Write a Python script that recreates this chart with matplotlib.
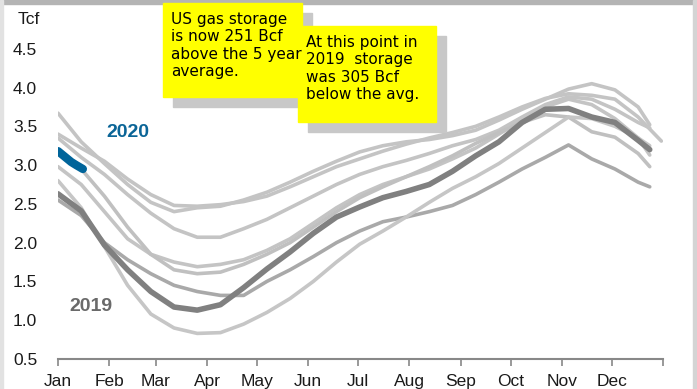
import matplotlib.pyplot as plt
from matplotlib.patches import Rectangle

# day of year for each reading (every two weeks)
days = [0, 14, 28, 42, 56, 70, 84, 98, 112, 126, 140, 154, 168,
        182, 196, 210, 224, 238, 252, 266, 280, 294, 308, 322, 336, 350]

# previous years, Tcf
year_a = [3.67, 3.30, 3.02, 2.75, 2.52, 2.40, 2.45, 2.47, 2.55, 2.65, 2.78, 2.92, 3.05,
          3.17, 3.25, 3.30, 3.33, 3.38, 3.45, 3.58, 3.72, 3.85, 3.98, 4.05, 3.97, 3.75]
year_b = [3.40, 3.22, 3.05, 2.82, 2.62, 2.48, 2.47, 2.49, 2.53, 2.60, 2.72, 2.85, 2.98,
          3.08, 3.18, 3.27, 3.35, 3.42, 3.50, 3.62, 3.75, 3.86, 3.92, 3.90, 3.85, 3.62]
year_c = [3.35, 3.10, 2.88, 2.62, 2.38, 2.18, 2.07, 2.07, 2.18, 2.30, 2.45, 2.60, 2.75,
          2.88, 2.98, 3.06, 3.15, 3.25, 3.33, 3.45, 3.62, 3.78, 3.88, 3.85, 3.72, 3.55]
year_d = [2.98, 2.75, 2.40, 2.05, 1.85, 1.75, 1.69, 1.72, 1.78, 1.90, 2.05, 2.25, 2.45,
          2.62, 2.75, 2.85, 2.95, 3.08, 3.22, 3.40, 3.58, 3.75, 3.85, 3.78, 3.60, 3.35]
year_e = [3.15, 2.95, 2.60, 2.20, 1.85, 1.65, 1.60, 1.62, 1.72, 1.85, 2.00, 2.20, 2.40,
          2.58, 2.72, 2.85, 2.98, 3.12, 3.28, 3.42, 3.55, 3.65, 3.62, 3.43, 3.36, 3.15]
year_f = [2.55, 2.35, 2.00, 1.78, 1.60, 1.45, 1.37, 1.32, 1.32, 1.50, 1.65, 1.82, 2.00,
          2.15, 2.27, 2.33, 2.40, 2.48, 2.62, 2.78, 2.95, 3.10, 3.26, 3.08, 2.95, 2.78]
year_g = [2.80, 2.45, 1.95, 1.45, 1.08, 0.90, 0.83, 0.84, 0.95, 1.10, 1.28, 1.50, 1.75,
          1.98, 2.15, 2.33, 2.52, 2.70, 2.85, 3.02, 3.22, 3.42, 3.62, 3.60, 3.50, 3.35]
# last reading of each year (day, value)
year_ends = [(357, 3.52), (364, 3.31), (357, 3.48), (357, 3.13), (357, 2.98), (357, 2.72), (357, 3.25)]

y2019 = [2.63, 2.41, 1.97, 1.65, 1.37, 1.17, 1.13, 1.20, 1.42, 1.66, 1.88, 2.12, 2.33,
         2.46, 2.58, 2.66, 2.75, 2.92, 3.12, 3.30, 3.55, 3.72, 3.73, 3.62, 3.55, 3.32]
y2019_end = (357, 3.20)

days_2020 = [0, 4, 8, 11, 15]
y2020 = [3.18, 3.11, 3.04, 3.00, 2.95]

month_starts = [0, 31, 59, 90, 120, 151, 181, 212, 243, 273, 304, 334, 365]
month_labels = ["Jan", "Feb", "Mar", "Apr", "May", "Jun", "Jul", "Aug", "Sep", "Oct", "Nov", "Dec", ""]

plt.rcParams['font.family'] = ['Liberation Sans', 'DejaVu Sans']

W, H = 697, 389
fig = plt.figure(figsize=(W / 100, H / 100), dpi=100)
ax = fig.add_axes([58 / W, 30 / H, 605 / W, 349 / H])


def px_rect(x0, y0, x1, y1, color, z):
    # rectangle given in pixel coords measured from the top-left corner
    fig.patches.append(Rectangle((x0 / W, 1 - y1 / H), (x1 - x0) / W, (y1 - y0) / H,
                                 transform=fig.transFigure, color=color, zorder=z))


# light frame around the picture
px_rect(0, 0, W, 4, "#b4b4b4", 0)
px_rect(693, 0, W, H, "#d4d4d4", 0)
px_rect(0, 0, 3, H, "#e2e2e2", 0)

past = [year_a, year_b, year_c, year_d, year_e, year_f, year_g]
colors = ["#c4c4c4", "#c4c4c4", "#c4c4c4", "#c4c4c4", "#c0c0c0", "#a9a9a9", "#c6c6c6"]
for vals, end, col in zip(past, year_ends, colors):
    ax.plot(days + [end[0]], vals + [end[1]], color=col, lw=2.6, solid_capstyle="round")

ax.plot(days + [y2019_end[0]], y2019 + [y2019_end[1]], color="#808080", lw=4,
        solid_capstyle="round")
ax.plot(days_2020, y2020, color="#00649a", lw=6, solid_capstyle="round")

ax.text(29, 3.42, "2020", color="#0b6597", fontsize=14, fontweight="bold", ha="left", va="center")
ax.text(7, 1.18, "2019", color="#6a6a6a", fontsize=14, fontweight="bold", ha="left", va="center")

ax.set_xlim(0, 365)
ax.set_ylim(0.5, 5.0)
ax.set_yticks([0.5, 1.0, 1.5, 2.0, 2.5, 3.0, 3.5, 4.0, 4.5])
ax.set_yticklabels(["0.5", "1.0", "1.5", "2.0", "2.5", "3.0", "3.5", "4.0", "4.5"])
ax.set_xticks(month_starts)
ax.set_xticklabels(month_labels)
ax.tick_params(axis="y", length=0, pad=15, labelsize=12.5, labelcolor="#1a1a1a")
ax.tick_params(axis="x", length=5, width=1.2, color="#888888", pad=6, labelsize=12.5,
               labelcolor="#1a1a1a")
for side in ["left", "right", "top"]:
    ax.spines[side].set_visible(False)
ax.spines["bottom"].set_color("#888888")
ax.spines["bottom"].set_linewidth(1.5)

fig.text(18 / W, 1 - 20 / H, "Tcf", fontsize=12.5, color="#1a1a1a", va="center", ha="left")


# yellow notes with grey shadow
def note(x0, y0, x1, y1, text):
    px_rect(x0 + 10, y0 + 10, x1 + 10, y1 + 10, "#c8c8c8", 5)
    px_rect(x0, y0, x1, y1, "#ffff00", 6)
    fig.text((x0 + 8) / W, 1 - (y0 + 9) / H, text, fontsize=11, va="top", ha="left",
             linespacing=1.2, color="black", zorder=7, family=["DejaVu Sans"])


note(163, 3, 302, 97, "US gas storage\nis now 251 Bcf\nabove the 5 year\naverage.")
note(298, 26, 436, 122, "At this point in\n2019  storage\nwas 305 Bcf\nbelow the avg.")

plt.savefig("out.png", dpi=100)
